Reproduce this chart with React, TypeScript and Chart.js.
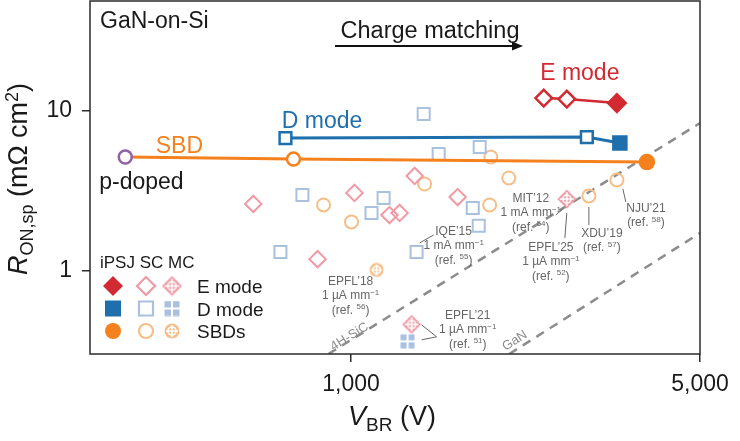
import React, { useEffect, useRef } from 'react';
import { Chart, registerables } from 'chart.js';

Chart.register(...registerables);

const FONT = "'Liberation Sans', Arial, Helvetica, sans-serif";

// ---------- colours ----------
const E_DARK = '#d22a32';
const D_DARK = '#1f6fad';
const SBD_DARK = '#f5801e';
const P_DOPED = '#8e62a6';
const E_LIGHT = '#ef9aa4';
const D_LIGHT = '#a9c0df';
const SBD_LIGHT = '#f6be88';
const LIMIT_GREY = '#8c8c8c';
const NOTE_GREY = '#666666';
const FRAME = '#2b2b2b';

// ---------- axes ----------
const X_MIN = 300;
const X_MAX = 5000;
const Y_MIN = 0.3;
const Y_MAX = 49;
const X_TICKS = [1000, 5000];
const X_TICK_LABELS = ['1,000', '5,000'];
const Y_TICKS = [1, 10];
const Y_TICK_LABELS = ['1', '10'];

// ---------- iPSJ (this work) series: V_BR (V), R_ON,sp (mΩ cm²) ----------
const SBD_LINE_V = [353, 767, 3914];
const SBD_LINE_R = [5.15, 5.0, 4.79];
const D_LINE_V = [739, 2967, 3455];
const D_LINE_R = [6.78, 6.87, 6.3];
const E_LINE_V = [2432, 2705, 3408];
const E_LINE_R = [12.06, 11.89, 11.22];

// ---------- single-channel (SC) literature ----------
const E_SC_V = [637, 1016, 1341, 1194, 1251, 857, 1635];
const E_SC_R = [2.62, 3.07, 3.92, 2.23, 2.3, 1.18, 2.89];
const D_SC_V = [799, 722, 1162, 1099, 1398, 1498, 1810, 1753, 1802, 1353];
const D_SC_R = [2.98, 1.31, 2.85, 2.3, 9.58, 5.38, 5.95, 2.47, 1.91, 1.31];
const SBD_SC_V = [881, 1002, 1404, 1905, 2070, 1895, 2995, 3408];
const SBD_SC_R = [2.58, 2.02, 3.49, 5.15, 3.81, 2.58, 2.94, 3.7];

// ---------- multi-channel (MC) literature ----------
const E_MC_V = [2705, 1322];
const E_MC_R = [2.81, 0.46];
const D_MC_V = [1298];
const D_MC_R = [0.36];
const SBD_MC_V = [1125];
const SBD_MC_R = [1.01];

// ---------- material limits ----------
const SIC_LIMIT_V = [901, 5000];
const SIC_LIMIT_R = [0.3, 8.41];
const GAN_LIMIT_V = [2075, 5000];
const GAN_LIMIT_R = [0.3, 1.72];

// ---------- annotations (anchored in data coordinates) ----------
const NOTES = [
  { v: 2291, r: 2.853, lines: [['MIT’12'], ['1 mA mm', '^−1'], ['(ref. ', '^54', ')']] },
  { v: 2513, r: 1.407, lines: [['EPFL’25'], ['1 µA mm', '^−1'], ['(ref. ', '^52', ')']] },
  { v: 3180, r: 1.722, lines: [['XDU’19'], ['(ref. ', '^57', ')']] },
  { v: 3896, r: 2.47, lines: [['NJU’21'], ['(ref. ', '^58', ')']] },
  { v: 1605, r: 1.773, lines: [['IQE’15'], ['1 mA mm', '^−1'], ['(ref. ', '^55', ')']] },
  { v: 998, r: 0.862, lines: [['EPFL’18'], ['1 µA mm', '^−1'], ['(ref. ', '^56', ')']] },
  { v: 1713, r: 0.528, lines: [['EPFL’21'], ['1 µA mm', '^−1'], ['(ref. ', '^51', ')']] },
];
const LEADERS = [
  [2571, 2.233, 2656, 2.434],
  [2705, 2.298, 2681, 1.602],
  [2995, 2.505, 2995, 1.932],
  [3503, 3.248, 3552, 2.693],
  [1372, 1.491, 1464, 1.673],
  [1385, 0.457, 1484, 0.3844],
  [1385, 0.3682, 1484, 0.3844],
];
const SERIES_LABELS = [
  { text: 'E mode', v: 2872, r: 15.64, color: E_DARK },
  { text: 'D mode', v: 875, r: 7.83, color: D_DARK },
  { text: 'SBD', v: 453, r: 5.46, color: SBD_DARK },
];
const P_DOPED_LABEL = { text: 'p-doped', v: 313, r: 3.25 };
const LIMIT_LABELS = [
  { text: '4H-SiC', v: 993, r: 0.3844, lineV: SIC_LIMIT_V, lineR: SIC_LIMIT_R },
  { text: 'GaN', v: 2128, r: 0.363, lineV: GAN_LIMIT_V, lineR: GAN_LIMIT_R },
];

const pts = (vs: number[], rs: number[]) => vs.map((v, i) => ({ x: v, y: rs[i] }));

type Seg = { t: string; size: number; dy: number; italic?: boolean };
const fontOf = (s: Seg) => `${s.italic ? 'italic ' : ''}${s.size}px ${FONT}`;

function drawSegs(ctx: CanvasRenderingContext2D, segs: Seg[], x: number, y: number, align: 'left' | 'center') {
  ctx.textAlign = 'left';
  ctx.textBaseline = 'alphabetic';
  let total = 0;
  const widths = segs.map((s) => {
    ctx.font = fontOf(s);
    const w = ctx.measureText(s.t).width;
    total += w;
    return w;
  });
  let cx = align === 'center' ? x - total / 2 : x;
  segs.forEach((s, i) => {
    ctx.font = fontOf(s);
    ctx.fillText(s.t, cx, y + s.dy);
    cx += widths[i];
  });
}

function noteSegs(parts: string[]): Seg[] {
  return parts.map((p) => (p.startsWith('^') ? { t: p.slice(1), size: 8, dy: -4.5 } : { t: p, size: 12, dy: 0 }));
}

function mcImage(kind: 'diamond' | 'square' | 'circle', color: string, s: number) {
  const c = document.createElement('canvas');
  c.width = s;
  c.height = s;
  const g = c.getContext('2d')!;
  const m = s / 2;
  g.fillStyle = color;
  g.beginPath();
  if (kind === 'diamond') {
    g.moveTo(m, 0.5);
    g.lineTo(s - 0.5, m);
    g.lineTo(m, s - 0.5);
    g.lineTo(0.5, m);
    g.closePath();
  } else if (kind === 'square') {
    g.rect(0.5, 0.5, s - 1, s - 1);
  } else {
    g.arc(m, m, m - 0.5, 0, Math.PI * 2);
  }
  g.fill();
  g.strokeStyle = '#ffffff';
  g.lineWidth = 1.6;
  g.beginPath();
  if (kind === 'diamond') {
    g.moveTo(m, 3);
    g.lineTo(m, s - 3);
    g.moveTo(3, m);
    g.lineTo(s - 3, m);
    g.stroke();
    g.beginPath();
    g.arc(m, m, s * 0.2, 0, Math.PI * 2);
    g.stroke();
  } else if (kind === 'square') {
    g.lineWidth = 2;
    g.moveTo(m, 0);
    g.lineTo(m, s);
    g.moveTo(0, m);
    g.lineTo(s, m);
    g.stroke();
  } else {
    g.moveTo(m, 2);
    g.lineTo(m, s - 2);
    g.moveTo(2, m);
    g.lineTo(s - 2, m);
    g.stroke();
    g.beginPath();
    g.arc(m, m, s * 0.25, 0, Math.PI * 2);
    g.stroke();
  }
  return c;
}

function shape(
  ctx: CanvasRenderingContext2D,
  kind: 'diamond' | 'square' | 'circle',
  x: number,
  y: number,
  half: number,
  fill: string | null,
  stroke: string | null,
  lw: number
) {
  ctx.beginPath();
  if (kind === 'diamond') {
    ctx.moveTo(x, y - half);
    ctx.lineTo(x + half, y);
    ctx.lineTo(x, y + half);
    ctx.lineTo(x - half, y);
    ctx.closePath();
  } else if (kind === 'square') {
    ctx.rect(x - half, y - half, half * 2, half * 2);
  } else {
    ctx.arc(x, y, half, 0, Math.PI * 2);
  }
  if (fill) {
    ctx.fillStyle = fill;
    ctx.fill();
  }
  if (stroke) {
    ctx.strokeStyle = stroke;
    ctx.lineWidth = lw;
    ctx.stroke();
  }
}

export default function App() {
  const ref = useRef<HTMLCanvasElement>(null);

  useEffect(() => {
    const canvas = ref.current!;
    const eMC = mcImage('diamond', E_LIGHT, 20);
    const dMC = mcImage('square', D_LIGHT, 15);
    const sMC = mcImage('circle', SBD_LIGHT, 15);
    const eMCL = mcImage('diamond', E_LIGHT, 21);
    const dMCL = mcImage('square', D_LIGHT, 16);
    const sMCL = mcImage('circle', SBD_LIGHT, 16);

    const decor = {
      id: 'decor',
      afterDatasetsDraw(chart: any) {
        const ctx: CanvasRenderingContext2D = chart.ctx;
        const xs = chart.scales.x;
        const ys = chart.scales.y;
        const px = (v: number) => xs.getPixelForValue(v);
        const py = (r: number) => ys.getPixelForValue(r);
        ctx.save();

        // limit labels along the dashed lines
        LIMIT_LABELS.forEach((l) => {
          const ang = Math.atan2(py(l.lineR[1]) - py(l.lineR[0]), px(l.lineV[1]) - px(l.lineV[0]));
          ctx.save();
          ctx.translate(px(l.v), py(l.r));
          ctx.rotate(ang);
          ctx.fillStyle = LIMIT_GREY;
          ctx.font = `13px ${FONT}`;
          ctx.textAlign = 'center';
          ctx.textBaseline = 'middle';
          ctx.fillText(l.text, 0, 0);
          ctx.restore();
        });

        // leader lines
        ctx.strokeStyle = NOTE_GREY;
        ctx.lineWidth = 1;
        LEADERS.forEach(([v1, r1, v2, r2]) => {
          ctx.beginPath();
          ctx.moveTo(px(v1), py(r1));
          ctx.lineTo(px(v2), py(r2));
          ctx.stroke();
        });

        // notes
        ctx.fillStyle = NOTE_GREY;
        NOTES.forEach((n) => {
          const x = px(n.v);
          const y0 = py(n.r);
          n.lines.forEach((ln, i) => {
            drawSegs(ctx, noteSegs(ln), x, y0 + 4 + i * 14.5, 'center');
          });
        });

        // series labels
        SERIES_LABELS.forEach((l) => {
          ctx.fillStyle = l.color;
          drawSegs(ctx, [{ t: l.text, size: 23, dy: 0 }], px(l.v), py(l.r), 'center');
        });
        ctx.fillStyle = '#1a1a1a';
        drawSegs(ctx, [{ t: P_DOPED_LABEL.text, size: 23, dy: 0 }], px(P_DOPED_LABEL.v), py(P_DOPED_LABEL.r), 'left');
        ctx.restore();
      },
      afterDraw(chart: any) {
        const ctx: CanvasRenderingContext2D = chart.ctx;
        const a = chart.chartArea;
        ctx.save();
        // frame
        ctx.strokeStyle = FRAME;
        ctx.lineWidth = 1.5;
        ctx.strokeRect(a.left, a.top, a.right - a.left, a.bottom - a.top);

        ctx.fillStyle = '#1a1a1a';
        // panel label
        drawSegs(ctx, [{ t: 'GaN-on-Si', size: 23, dy: 0 }], a.left + 10, a.top + 27, 'left');
        // Charge matching arrow
        drawSegs(ctx, [{ t: 'Charge matching', size: 23.5, dy: 0 }], a.left + 340, a.top + 37, 'center');
        const ay = a.top + 45;
        const ax0 = a.left + 245;
        const ax1 = a.left + 433;
        ctx.strokeStyle = '#111';
        ctx.lineWidth = 2;
        ctx.beginPath();
        ctx.moveTo(ax0, ay);
        ctx.lineTo(ax1 - 6, ay);
        ctx.stroke();
        ctx.fillStyle = '#111';
        ctx.beginPath();
        ctx.moveTo(ax1, ay);
        ctx.lineTo(ax1 - 11, ay - 4.5);
        ctx.lineTo(ax1 - 11, ay + 4.5);
        ctx.closePath();
        ctx.fill();

        // legend
        ctx.fillStyle = '#1a1a1a';
        drawSegs(ctx, [{ t: 'iPSJ SC MC', size: 17, dy: 0 }], a.left + 10, a.bottom - 86, 'left');
        const rows = [
          { y: a.bottom - 68, kind: 'diamond' as const, dark: E_DARK, light: E_LIGHT, img: eMCL, text: 'E mode', hf: 10, ho: 9 },
          { y: a.bottom - 45.5, kind: 'square' as const, dark: D_DARK, light: D_LIGHT, img: dMCL, text: 'D mode', hf: 8, ho: 7 },
          { y: a.bottom - 23, kind: 'circle' as const, dark: SBD_DARK, light: SBD_LIGHT, img: sMCL, text: 'SBDs', hf: 8, ho: 7 },
        ];
        rows.forEach((r) => {
          shape(ctx, r.kind, a.left + 23, r.y, r.hf, r.dark, null, 0);
          shape(ctx, r.kind, a.left + 56, r.y, r.ho, null, r.light, 2.2);
          ctx.drawImage(r.img, a.left + 82 - r.img.width / 2, r.y - r.img.height / 2);
          ctx.fillStyle = '#1a1a1a';
          drawSegs(ctx, [{ t: r.text, size: 19, dy: 0 }], a.left + 107, r.y + 7, 'left');
        });

        // axis titles
        ctx.fillStyle = '#1a1a1a';
        ctx.save();
        ctx.translate(27, (a.top + a.bottom) / 2 + 1.5);
        ctx.rotate(-Math.PI / 2);
        drawSegs(
          ctx,
          [
            { t: 'R', size: 27, dy: 0, italic: true },
            { t: 'ON,sp', size: 18, dy: 6 },
            { t: ' (mΩ cm', size: 27, dy: 0 },
            { t: '2', size: 18, dy: -9 },
            { t: ')', size: 27, dy: 0 },
          ],
          0,
          0,
          'center'
        );
        ctx.restore();
        drawSegs(
          ctx,
          [
            { t: 'V', size: 27, dy: 0, italic: true },
            { t: 'BR', size: 19, dy: 6 },
            { t: ' (V)', size: 27, dy: 0 },
          ],
          (a.left + a.right) / 2 - 3,
          425,
          'center'
        );
        ctx.restore();
      },
    };

    const transparent = 'rgba(255,255,255,0)';
    const chart = new Chart(canvas, {
      type: 'scatter',
      data: {
        datasets: [
          {
            label: '4H-SiC limit',
            data: pts(SIC_LIMIT_V, SIC_LIMIT_R),
            showLine: true,
            borderColor: LIMIT_GREY,
            borderWidth: 2.5,
            borderDash: [9, 7],
            pointRadius: 0,
            order: 20,
          },
          {
            label: 'GaN limit',
            data: pts(GAN_LIMIT_V, GAN_LIMIT_R),
            showLine: true,
            borderColor: LIMIT_GREY,
            borderWidth: 2.5,
            borderDash: [9, 7],
            pointRadius: 0,
            order: 20,
          },
          {
            label: 'E mode SC',
            data: pts(E_SC_V, E_SC_R),
            pointStyle: 'rectRot',
            pointRadius: 8.2,
            pointBorderWidth: 2,
            pointBorderColor: E_LIGHT,
            pointBackgroundColor: transparent,
            order: 10,
          },
          {
            label: 'D mode SC',
            data: pts(D_SC_V, D_SC_R),
            pointStyle: 'rect',
            pointRadius: 8.5,
            pointBorderWidth: 2,
            pointBorderColor: D_LIGHT,
            pointBackgroundColor: transparent,
            order: 10,
          },
          {
            label: 'SBD SC',
            data: pts(SBD_SC_V, SBD_SC_R),
            pointStyle: 'circle',
            pointRadius: 6.5,
            pointBorderWidth: 2,
            pointBorderColor: SBD_LIGHT,
            pointBackgroundColor: transparent,
            order: 10,
          },
          { label: 'E mode MC', data: pts(E_MC_V, E_MC_R), pointStyle: eMC, pointRadius: 9, order: 9 },
          { label: 'D mode MC', data: pts(D_MC_V, D_MC_R), pointStyle: dMC, pointRadius: 8, order: 9 },
          { label: 'SBD MC', data: pts(SBD_MC_V, SBD_MC_R), pointStyle: sMC, pointRadius: 8, order: 9 },
          {
            label: 'SBD iPSJ',
            data: pts(SBD_LINE_V, SBD_LINE_R),
            showLine: true,
            borderColor: SBD_DARK,
            borderWidth: 3,
            pointStyle: 'circle',
            pointRadius: [6.5, 6.5, 7],
            pointBorderWidth: 2.5,
            pointBorderColor: [P_DOPED, SBD_DARK, SBD_DARK],
            pointBackgroundColor: ['#ffffff', '#ffffff', SBD_DARK],
            order: 3,
          },
          {
            label: 'D mode iPSJ',
            data: pts(D_LINE_V, D_LINE_R),
            showLine: true,
            borderColor: D_DARK,
            borderWidth: 3,
            pointStyle: 'rect',
            pointRadius: [8.3, 8.3, 9.2],
            pointBorderWidth: 2.5,
            pointBorderColor: D_DARK,
            pointBackgroundColor: ['#ffffff', '#ffffff', D_DARK],
            order: 2,
          },
          {
            label: 'E mode iPSJ',
            data: pts(E_LINE_V, E_LINE_R),
            showLine: true,
            borderColor: E_DARK,
            borderWidth: 2.5,
            pointStyle: 'rectRot',
            pointRadius: [8.3, 8.3, 8.8],
            pointBorderWidth: 2.5,
            pointBorderColor: E_DARK,
            pointBackgroundColor: ['#ffffff', '#ffffff', E_DARK],
            order: 1,
          },
        ],
      } as any,
      options: {
        responsive: false,
        animation: false,
        events: [],
        layout: { autoPadding: false, padding: { left: 0, right: 40, top: 1, bottom: 0 } },
        plugins: { legend: { display: false }, tooltip: { enabled: false }, title: { display: false } },
        scales: {
          x: {
            type: 'logarithmic',
            min: X_MIN,
            max: X_MAX,
            afterBuildTicks: (s: any) => {
              s.ticks = X_TICKS.map((v) => ({ value: v }));
            },
            afterFit: (s: any) => {
              s.height = 87;
              s.paddingLeft = 0;
              s.paddingRight = 0;
            },
            ticks: {
              autoSkip: false,
              maxRotation: 0,
              padding: 9,
              color: '#1a1a1a',
              font: { family: FONT, size: 23 },
              callback: (_v: any, i: number) => X_TICK_LABELS[i],
            },
            grid: { display: true, drawOnChartArea: false, drawTicks: true, tickLength: 8, color: FRAME, lineWidth: 1.5 },
            border: { display: false },
          },
          y: {
            type: 'logarithmic',
            min: Y_MIN,
            max: Y_MAX,
            afterBuildTicks: (s: any) => {
              s.ticks = Y_TICKS.map((v) => ({ value: v }));
            },
            afterFit: (s: any) => {
              s.width = 90;
              s.paddingTop = 0;
              s.paddingBottom = 0;
            },
            ticks: {
              autoSkip: false,
              padding: 10,
              color: '#1a1a1a',
              font: { family: FONT, size: 23 },
              callback: (_v: any, i: number) => Y_TICK_LABELS[i],
            },
            grid: { display: true, drawOnChartArea: false, drawTicks: true, tickLength: 8, color: FRAME, lineWidth: 1.5 },
            border: { display: false },
          },
        },
      } as any,
      plugins: [decor],
    });
    return () => chart.destroy();
  }, []);

  return (
    <div style={{ position: 'fixed', left: 0, top: 0, width: 740, height: 441, background: '#ffffff' }}>
      <canvas ref={ref} width={740} height={441} style={{ display: 'block', width: 740, height: 441 }} />
    </div>
  );
}
